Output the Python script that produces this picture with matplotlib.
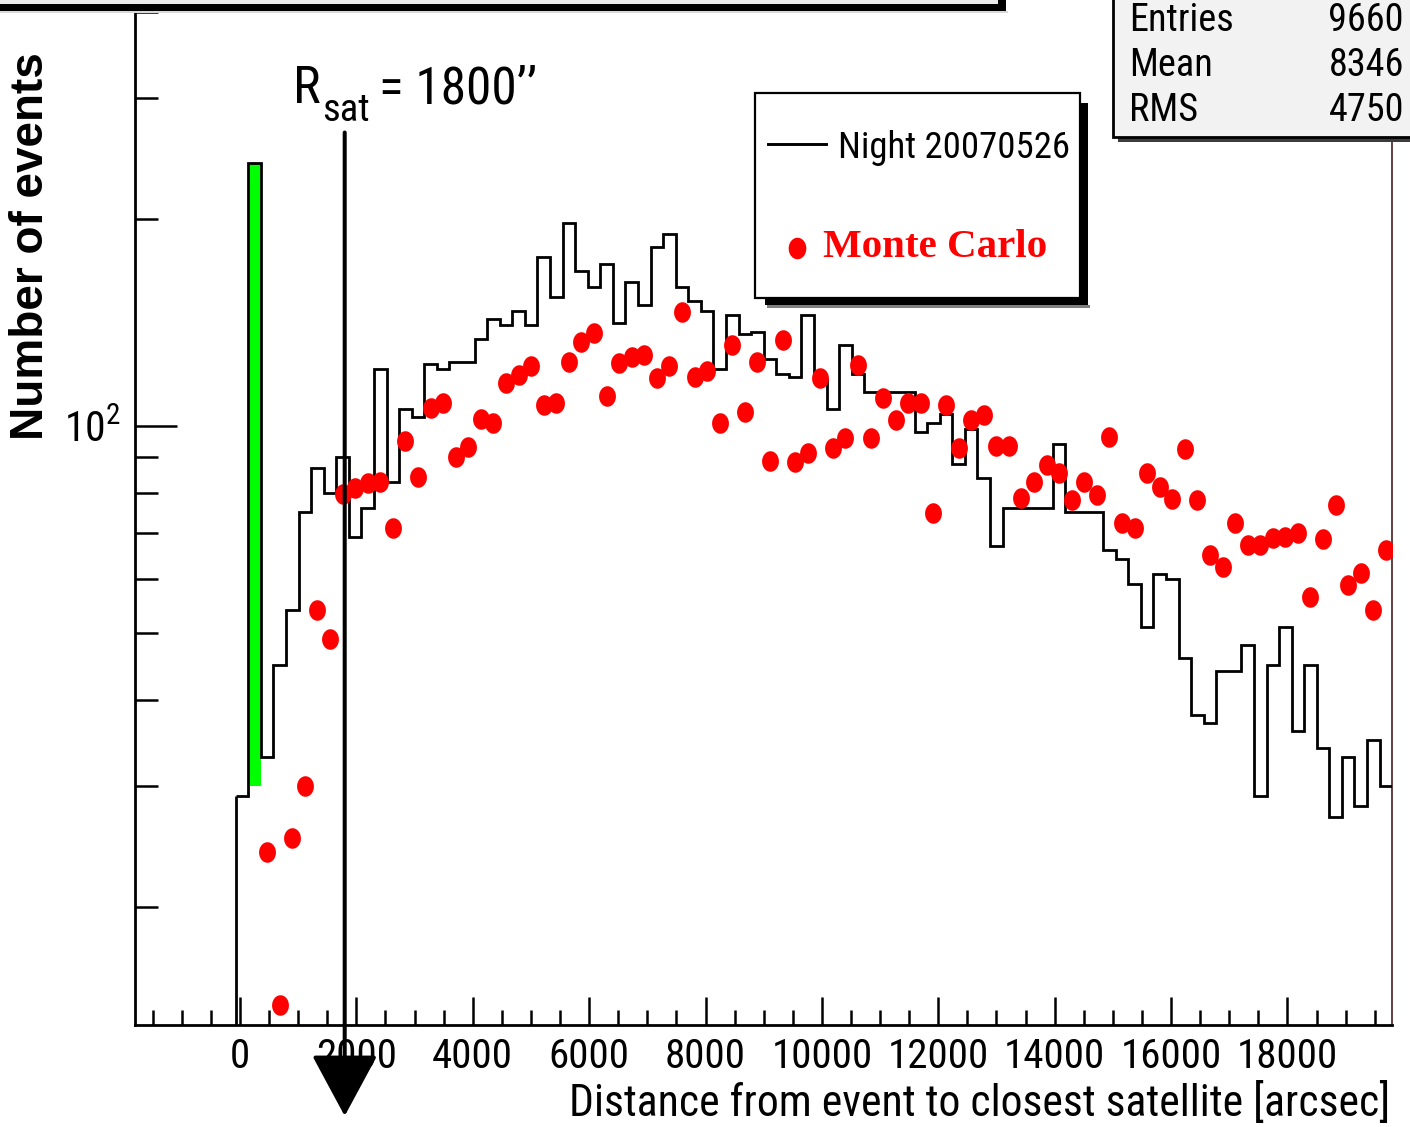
import numpy as np
import matplotlib
matplotlib.use("Agg")
import matplotlib.pyplot as plt
import matplotlib.ticker as mticker
from matplotlib import font_manager as fm
from matplotlib.patches import Rectangle
from matplotlib.lines import Line2D
from matplotlib.path import Path

# ---------------- data ----------------
bin_width = 216          # arcsec per bin
first_edge = -72         # left edge of first filled bin
data_counts = [29, 241, 33, 45, 54, 75, 87, 80, 90, 69,
               76, 121, 83, 106, 103, 123, 121, 124, 124, 134,
               143, 140, 147, 140, 176, 154, 197, 168, 159, 172,
               141, 162, 150, 182, 190, 159, 152, 147, 121, 145,
               136, 137, 125, 119, 118, 145, 117, 106, 131, 119,
               112, 112, 112, 112, 98, 101, 104, 88, 99, 84,
               67, 76, 76, 76, 76, 94, 75, 75, 75, 66,
               64, 59, 51, 61, 60, 46, 38, 37, 44, 44,
               48, 29, 45, 51, 36, 45, 34, 27, 33, 28,
               35, 30]
mc_first_bin = 2         # MC markers start at this bin index of data_counts
mc_values = [24.0, 14.4, 25.2, 30.0, 54.1, 49.1, 79.7, 81.3, 82.6, 82.9,
             71.0, 95.1, 84.4, 106.1, 107.9, 90.2, 93.3, 102.4, 100.9, 115.5,
             118.6, 122.2, 107.3, 108.1, 124.0, 132.6, 136.4, 110.6, 123.3, 126.1,
             126.8, 117.4, 122.2, 146.6, 117.8, 120.2, 100.9, 131.1, 104.7, 124.0,
             88.9, 133.4, 88.7, 91.3, 117.4, 92.8, 96.0, 122.6, 96.0, 109.7,
             102.0, 107.9, 107.9, 74.7, 107.3, 92.8, 102.0, 103.8, 93.5, 93.5,
             78.5, 83.0, 87.8, 85.4, 78.1, 83.0, 79.4, 96.3, 72.2, 71.0,
             85.4, 81.6, 78.2, 92.5, 78.1, 64.9, 62.4, 72.2, 67.1, 67.1,
             68.7, 69.0, 69.8, 56.5, 68.4, 76.8, 58.7, 61.2, 54.0, 66.0]
green_bin = 1            # bin highlighted in green
green_bottom = 30
r_sat = 1800
r_sat_top = 267
x_ticks = [0, 2000, 4000, 6000, 8000, 10000, 12000, 14000, 16000, 18000]
x_tick_labels = ["0", "2000", "4000", "6000", "8000", "10000", "12000",
                 "14000", "16000", "18000"]
y_ticks = [100]
y_tick_labels = [r"$\mathregular{10^{2}}$"]
x_range = (-1800, 19800)
y_range = (13.47, 416.0)
stats_labels = ["Entries", "Mean", "RMS"]
stats_values = ["9660", "8346", "4750"]
legend_labels = ["Night 20070526", "Monte Carlo"]
x_label = "Distance from event to closest satellite [arcsec]"
y_label = "Number of events"

# ---------------- fonts ----------------
names = {f.name for f in fm.fontManager.ttflist}
SANS, SC = "Liberation Sans", 0.85
for cand in ["Liberation Sans Narrow", "Arial Narrow", "Roboto Condensed",
             "DejaVu Sans Condensed"]:
    if cand in names:
        SANS, SC = cand, 1.0
        break
plt.rcParams["font.family"] = [SANS, "DejaVu Sans"]
plt.rcParams["mathtext.fontset"] = "custom"
plt.rcParams["mathtext.rm"] = SANS

W, H = 1410, 1127
fig = plt.figure(figsize=(W / 100, H / 100), dpi=100)
fig.patch.set_facecolor("white")


def fx(x):
    return x / W


def fy(y):
    return 1 - y / H


ax = fig.add_axes([fx(135.2), fy(1025), (1392.2 - 135.2) / W, 1025 / H])

edges = first_edge + bin_width * np.arange(len(data_counts) + 1)
centers = 0.5 * (edges[:-1] + edges[1:])

ax.set_yscale("log")
ax.set_xlim(*x_range)
ax.set_ylim(*y_range)

# green highlighted bin
ax.bar(centers[green_bin], data_counts[green_bin] - green_bottom,
       bottom=green_bottom, width=bin_width, color="#00ff00",
       edgecolor="none", zorder=2)

# data histogram
ax.stairs(data_counts, edges, baseline=None, color="black", lw=2.0, zorder=3)
ax.plot([edges[0], edges[0]], [y_range[0], data_counts[0]], color="black",
        lw=2.0, zorder=3, solid_capstyle="butt")

# Monte Carlo markers
theta = np.linspace(0, 2 * np.pi, 61)
ell = Path(np.column_stack([0.82 * np.cos(theta), np.sin(theta)]))
mc_x = centers[mc_first_bin:mc_first_bin + len(mc_values)]
ax.plot(mc_x, mc_values, ls="none", marker=ell, ms=14.8, color="#ff0000",
        mec="none", zorder=4)

# R_sat line with arrow
ax.annotate("", xy=(r_sat, fy(1116)), xycoords=("data", "figure fraction"),
            xytext=(r_sat, r_sat_top), textcoords="data",
            arrowprops=dict(arrowstyle="-|>,head_length=39,head_width=21",
                            mutation_scale=1, lw=2.9, color="black",
                            shrinkA=0, shrinkB=0),
            annotation_clip=False, zorder=6)

# axes styling
ax.set_xticks(x_ticks, x_tick_labels)
ax.xaxis.set_minor_locator(mticker.MultipleLocator(500))
ax.set_yticks(y_ticks, y_tick_labels)
ax.yaxis.set_minor_locator(mticker.LogLocator(base=10, subs=np.arange(2, 10)))
ax.yaxis.set_minor_formatter(mticker.NullFormatter())
ax.tick_params(which="both", direction="in", top=False, right=False,
               color="black")
ax.tick_params(axis="x", which="major", length=20, width=1.8, pad=9,
               labelsize=29.5 * SC)
ax.tick_params(axis="x", which="minor", length=11, width=1.8)
ax.tick_params(axis="y", which="major", length=30, width=1.8, pad=10.5,
               labelsize=30 * SC)
ax.tick_params(axis="y", which="minor", length=16.5, width=1.8)
for s in ["left", "bottom"]:
    ax.spines[s].set_linewidth(2.0)
ax.spines["top"].set_visible(False)
ax.spines["right"].set_color("#3a0a0a")
ax.spines["right"].set_linewidth(1.1)

ax.set_xlabel(x_label, fontsize=31.5 * SC)
ax.xaxis.set_label_coords(fx(1390), fy(1116), transform=fig.transFigure)
ax.xaxis.label.set_ha("right")
ax.xaxis.label.set_va("baseline")

ax.set_ylabel(y_label, fontsize=33, family=["Liberation Sans", "DejaVu Sans"],
              fontweight="bold")
ax.yaxis.set_label_coords(fx(43), fy(246.5), transform=fig.transFigure)
ax.yaxis.label.set_va("baseline")
ax.yaxis.label.set_ha("center")

# R_sat text
fig.text(fx(293), fy(103), "R", fontsize=37.5 * SC, va="baseline", ha="left")
fig.text(fx(322), fy(121), "sat", fontsize=28 * SC, va="baseline", ha="left")
fig.text(fx(379), fy(103), "= 1800\u2019\u2019", fontsize=37 * SC,
         va="baseline", ha="left")


def prect(x0, y0, x1, y1, **kw):
    r = Rectangle((fx(x0), fy(y1)), (x1 - x0) / W, (y1 - y0) / H,
                  transform=fig.transFigure, **kw)
    fig.add_artist(r)
    return r


# title box remnant at top
prect(-20, -10, 1000, 4, fc="#ececec", ec="none", zorder=5)
prect(-20, 11, 1008, 13, fc="#d8d8d8", ec="none", zorder=5)
prect(-20, 4, 1005, 11, fc="black", ec="none", zorder=6)
prect(998, -10, 1006, 11, fc="black", ec="none", zorder=6)

# legend box
prect(767, 305, 1090, 308, fc="#808080", ec="none", zorder=5)
prect(765, 103, 1088, 305, fc="black", ec="none", zorder=5)
prect(755, 93, 1080, 298, fc="white", ec="black", lw=1.6, zorder=6)
fig.add_artist(Line2D([fx(768), fx(826)], [fy(143.5), fy(143.5)],
                      transform=fig.transFigure, color="black", lw=2.1,
                      zorder=7))
fig.add_artist(Line2D([fx(797)], [fy(248)], transform=fig.transFigure,
                      ls="none", marker=ell, ms=15.5, color="#ff0000",
                      mec="none", zorder=7))
fig.text(fx(838), fy(158), legend_labels[0], fontsize=26.5 * SC,
         va="baseline", ha="left", zorder=7)
fig.text(fx(823), fy(257), legend_labels[1], fontsize=29.5,
         family=["Liberation Serif", "DejaVu Serif"], fontweight="bold",
         color="#ff0000", va="baseline", ha="left", zorder=7)

# stats box
prect(1118, -10, 1425, 142, fc="#3c3c3c", ec="none", zorder=5)
prect(1113, -15, 1420, 137, fc="#f2f2f2", ec="black", lw=2.0, zorder=6)
for lab, val, yb in zip(stats_labels, stats_values, [31, 76, 121]):
    fig.text(fx(1129), fy(yb), lab, fontsize=27.5 * SC, va="baseline",
             ha="left", zorder=7)
    fig.text(fx(1404), fy(yb), val, fontsize=27.5 * SC, va="baseline",
             ha="right", zorder=7)

fig.savefig("out.png", dpi=100)
